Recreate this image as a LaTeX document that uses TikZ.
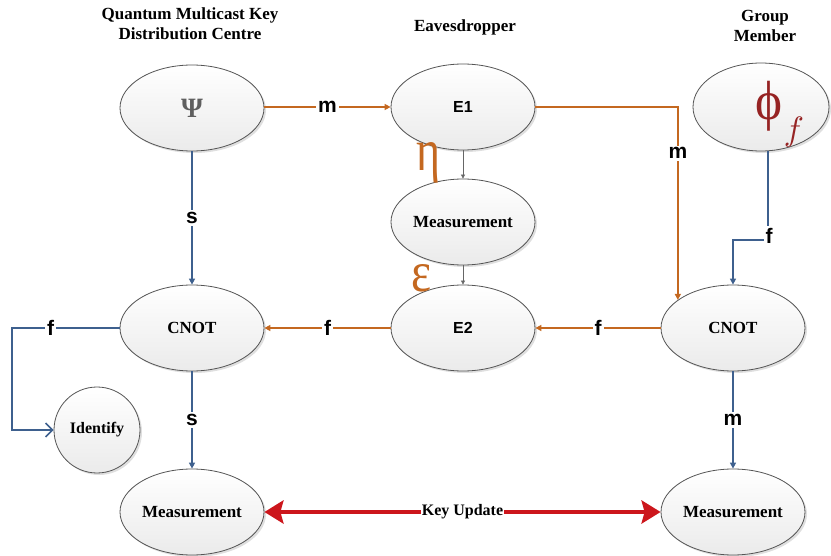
\documentclass[tikz,border=0pt]{standalone}
\usepackage{fontspec}
\setmainfont{Liberation Serif}
\newfontfamily\arialfont{Liberation Sans}
\usetikzlibrary{shapes.geometric,arrows.meta,shadows}

\definecolor{edgeorange}{RGB}{196,104,32}
\definecolor{edgeblue}{RGB}{62,96,142}
\definecolor{keyred}{RGB}{204,22,28}
\definecolor{nodeline}{RGB}{85,85,85}
\definecolor{psigray}{RGB}{95,95,95}
\definecolor{phired}{RGB}{150,35,35}

\tikzset{
  proc/.style={ellipse, draw=nodeline, line width=0.8pt,
    minimum width=144pt, minimum height=86pt, inner sep=0pt,
    top color=white, bottom color=gray!16,
    drop shadow={shadow xshift=2pt, shadow yshift=-2pt, opacity=0.25, fill=gray},
    font=\bfseries\fontsize{17}{17}\selectfont},
  sansproc/.style={proc, font=\arialfont\bfseries\fontsize{16}{16}\selectfont},
  heading/.style={font=\bfseries\fontsize{17}{20}\selectfont, align=center},
  lbl/.style={fill=white, inner sep=2pt, font=\arialfont\bfseries\fontsize{21}{21}\selectfont},
  orangeedge/.style={draw=edgeorange, line width=1.5pt, -{Triangle[length=6pt,width=6pt]}},
  blueedge/.style={draw=edgeblue, line width=1.5pt, -{Triangle[length=6pt,width=6pt]}},
  grayedge/.style={draw=gray!80!black, line width=0.6pt, -{Triangle[length=4pt,width=4pt]}},
  keyedge/.style={draw=keyred, line width=4pt,
    {Stealth[length=19pt,width=23pt,inset=3pt]}-{Stealth[length=19pt,width=23pt,inset=3pt]}},
  greek/.style={text=edgeorange, inner sep=0pt}
}

\begin{document}
\begin{tikzpicture}[x=1pt,y=-1pt]
\useasboundingbox (0,0) rectangle (831,556);

% column headings
\node[heading] (hkdc) at (190,24) {Quantum Multicast Key\\Distribution Centre};
\node[heading] (heve) at (465,27) {Eavesdropper};
\node[heading] (hgrp) at (765,26) {Group\\Member};

% nodes
\node[proc] (psi) at (192,108) {\textcolor{psigray}{\fontsize{28}{28}\selectfont Ψ}};
\node[sansproc] (e1) at (463,107) {E1};
\node[proc, minimum width=136pt, minimum height=88pt] (phi) at (761,107) {};
\node[inner sep=0pt, text=phired] (phisym) at (769,106)
  {\resizebox*{27pt}{50pt}{ϕ}};
\node[inner sep=0pt, text=phired] (phisub) at (794,132)
  {\resizebox*{!}{30pt}{$f$}};
\node[proc] (meas) at (463,222) {Measurement};
\node[proc] (cnotL) at (192,328) {CNOT};
\node[sansproc] (e2) at (463,328) {E2};
\node[proc] (cnotR) at (733,328) {CNOT};
\node[circle, draw=nodeline, line width=0.8pt, minimum size=86pt, inner sep=0pt,
  top color=white, bottom color=gray!16,
  drop shadow={shadow xshift=2pt, shadow yshift=-2pt, opacity=0.25, fill=gray},
  font=\bfseries\fontsize{16}{16}\selectfont] (ident) at (97,430) {Identify};
\node[proc] (measL) at (192,512) {Measurement};
\node[proc] (measR) at (733,512) {Measurement};

% bend points
\coordinate (ecorner) at (12,328);
\coordinate (fcorner) at (768,240);

% orange quantum channel
\draw[orangeedge] (psi.east |- e1.west) -- node[lbl]{m} (e1.west);
\draw[orangeedge] (e1.east) -| node[lbl, pos=0.62]{m} (cnotR.153);
\draw[orangeedge] (cnotR.west) -- node[lbl]{f} (e2.east);
\draw[orangeedge] (e2.west) -- node[lbl]{f} (cnotL.east);

% eavesdropper internals
\draw[grayedge] (e1.south) -- (meas.north);
\draw[grayedge] (meas.south) -- (e2.north);
\node[greek] (eta) at (428,163) {\resizebox{24pt}{28pt}{η}};
\node[greek] (eps) at (421,278) {\resizebox{20pt}{27pt}{ε}};

% blue classical links
\draw[blueedge] (psi.south) -- node[lbl]{s} (cnotL.north);
\draw[blueedge] (cnotL.south) -- node[lbl]{s} (measL.north);
\draw[blueedge] (cnotR.south) -- node[lbl]{m} (measR.north);
\draw[blueedge] (fcorner |- phi.south) -- (fcorner) -| (cnotR.north);
\node[lbl] (flbl) at (769,236) {f};
\draw[draw=edgeblue, line width=1.5pt, -{Straight Barb[length=7pt,width=14pt]}]
  (cnotL.west) -- node[lbl, pos=0.64]{f} (ecorner) |- (ident.west);

% key update
\draw[keyedge] (measL.east) -- node[fill=white, inner sep=1pt,
  font=\bfseries\fontsize{16}{16}\selectfont]{Key Update} (measR.west);
\end{tikzpicture}
\end{document}
